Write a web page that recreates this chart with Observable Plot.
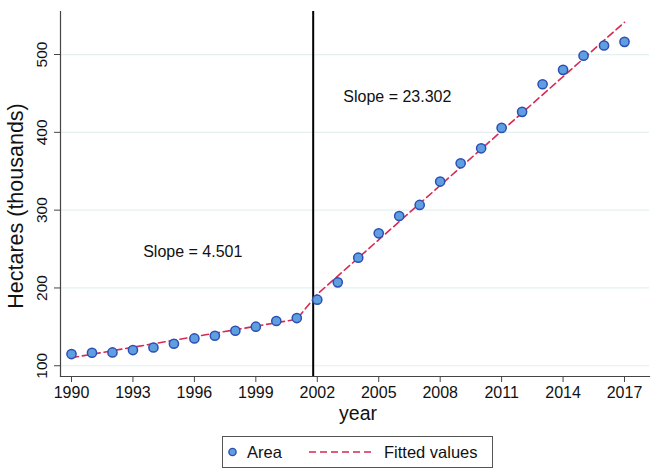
<!DOCTYPE html>
<html>
<head>
<meta charset="utf-8">
<script src="https://cdn.jsdelivr.net/npm/d3@7"></script>
<script src="https://cdn.jsdelivr.net/npm/@observablehq/plot@0.6"></script>
<style>
  html, body { margin: 0; padding: 0; background: #fff; }
  body { width: 651px; height: 469px; overflow: hidden; font-family: "Liberation Sans", Arial, sans-serif; }
  #chart { position: absolute; left: 0; top: 0; }
  #legend {
    position: absolute; left: 222px; top: 436px; width: 271px; height: 32px;
    box-sizing: border-box; border: 1px solid #555; background: #fff;
    font-size: 16.5px; color: #111;
  }
  #legend .item { position: absolute; top: 0; height: 30px; line-height: 30px; }
</style>
</head>
<body>
<div id="chart"></div>
<div id="legend">
  <svg width="269" height="30" style="position:absolute;left:0;top:0">
    <circle cx="9.5" cy="15" r="3.6" fill="#5f9fe0" stroke="#2b4fb5" stroke-width="1.4"></circle>
    <line x1="86" x2="151" y1="15" y2="15" stroke="#d62a52" stroke-width="1.6" stroke-dasharray="7,4"></line>
  </svg>
  <span class="item" style="left:24px">Area</span>
  <span class="item" style="left:161px">Fitted values</span>
</div>
<script>
const years = [1990,1991,1992,1993,1994,1995,1996,1997,1998,1999,2000,2001,2002,2003,2004,2005,2006,2007,2008,2009,2010,2011,2012,2013,2014,2015,2016,2017];
const area  = [115.0,116.7,117.1,120.2,123.5,128.3,135.1,138.6,145.0,150.2,157.5,161.3,184.9,207.2,238.9,270.2,292.5,306.7,336.7,360.2,379.5,405.7,426.3,461.8,480.3,498.5,511.6,516.3];

// fitted line endpoints of the two segments
const fitYears  = [1990, 2001, 2002, 2017];
const fitValues = [110.3, 159.8, 192.0, 541.5];

const breakYear = 2001.8;
const yTicks = [100, 200, 300, 400, 500];
const xTicks = [1990,1993,1996,1999,2002,2005,2008,2011,2014,2017];
const slopeLabels = [
  {year: 1993.5, value: 246.6, text: "Slope = 4.501"},
  {year: 2003.27, value: 445, text: "Slope = 23.302"}
];

const pts = years.map((y, i) => ({year: y, area: area[i]}));
const fit = fitYears.map((y, i) => ({year: y, value: fitValues[i]}));

const chart = Plot.plot({
  width: 651,
  height: 432,
  marginLeft: 60,
  marginRight: 2,
  marginTop: 11,
  marginBottom: 56,
  style: {fontFamily: "'Liberation Sans', Arial, sans-serif", fontSize: "16px", color: "#111", background: "#fff"},
  x: {domain: [1989.463, 2018.22], label: null},
  y: {domain: [86.2, 555.3], label: null},
  marks: [
    Plot.ruleY(yTicks, {stroke: "#e6efef", strokeWidth: 1.2}),
    Plot.axisY(yTicks, {tickSize: 6, stroke: "#444", text: null, label: null}),
    Plot.text(yTicks, {y: d => d, frameAnchor: "left", textAnchor: "middle", dx: -18, rotate: -90, text: d => String(d), fontSize: 15.5, fill: "#111"}),
    Plot.axisX(xTicks, {tickSize: 6, tickPadding: 4, tickFormat: d => String(d), fontSize: 16, stroke: "#444", label: null}),
    Plot.frame({anchor: "left", stroke: "#444", strokeWidth: 1.2}),
    Plot.frame({anchor: "bottom", stroke: "#444", strokeWidth: 1.2}),
    Plot.ruleX([breakYear], {stroke: "#000", strokeWidth: 2}),
    Plot.line(fit, {x: "year", y: "value", stroke: "#d62a52", strokeWidth: 1.6, strokeDasharray: "7,4"}),
    Plot.dot(pts, {x: "year", y: "area", r: 4.6, fill: "#5f9fe0", stroke: "#2b4fb5", strokeWidth: 1.5}),
    Plot.text(slopeLabels, {x: "year", y: "value", text: "text", textAnchor: "start", fontSize: 16, fill: "#111"}),
    Plot.text(["Hectares (thousands)"], {frameAnchor: "left", textAnchor: "middle", dx: -44, dy: 12, rotate: -90, fontSize: 21.5, fill: "#111"}),
    Plot.text(["year"], {frameAnchor: "bottom", dx: 3, dy: 43, fontSize: 19.5, fill: "#111"})
  ]
});
document.getElementById("chart").appendChild(chart);
</script>
</body>
</html>
